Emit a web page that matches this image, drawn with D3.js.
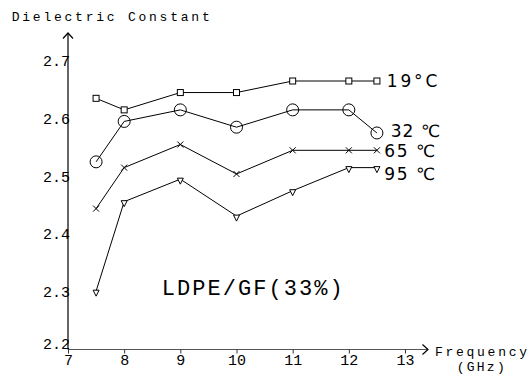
<!DOCTYPE html>
<html><head><meta charset="utf-8">
<script src="https://cdn.jsdelivr.net/npm/d3@7"></script>
<style>body{margin:0;background:#fff}svg{display:block}</style>
</head><body>
<script>
const freq = [7.5, 8, 9, 10, 11, 12, 12.5];
const t19 = [2.635, 2.615, 2.645, 2.645, 2.665, 2.665, 2.665];
const t32 = [2.525, 2.595, 2.615, 2.585, 2.615, 2.615, 2.575];
const t65 = [2.444, 2.515, 2.555, 2.504, 2.545, 2.545, 2.545];
const t95 = [2.301, 2.456, 2.495, 2.431, 2.475, 2.515, 2.515];
const seriesNames = ["19°C", "32 ℃", "65 ℃", "95 ℃"];
const xTicks = [7, 8, 9, 10, 11, 12, 13];
const yTicks = [2.2, 2.3, 2.4, 2.5, 2.6, 2.7];

const W = 529, H = 376;
const svg = d3.select("body").append("svg").attr("width", W).attr("height", H);
const x = d3.scaleLinear().domain([7, 13]).range([68, 405]);
const y = d3.scaleLinear().domain([2.2, 2.7]).range([349.5, 60.8]);
const mono = "'Liberation Mono', 'Courier New', monospace";

// axes lines with arrows
const ax = svg.append("g").attr("stroke", "#000").attr("fill", "none").attr("stroke-width", 1.2);
ax.append("line").attr("x1", x(7)).attr("y1", y(2.2)).attr("x2", x(7)).attr("y2", 33);
ax.append("path").attr("d", `M${x(7)-5},38.5L${x(7)},33L${x(7)+5},38.5`);
ax.append("line").attr("x1", x(7)).attr("y1", y(2.2)).attr("x2", 428).attr("y2", y(2.2)).attr("stroke","#555");
ax.append("path").attr("d", `M422.5,${y(2.2)-5}L428,${y(2.2)}L422.5,${y(2.2)+5}`);

// x axis
const gx = svg.append("g").attr("transform", `translate(0,${y(2.2)})`)
  .call(d3.axisBottom(x).tickValues(xTicks).tickFormat(d3.format("d")).tickSize(4).tickPadding(1));
gx.select(".domain").remove();
gx.selectAll("text").attr("font-family", mono).attr("font-size", 15).attr("fill", "#000");
gx.selectAll("line").attr("stroke", "#333");

// y axis
const gy = svg.append("g").attr("transform", `translate(${x(7)},0)`)
  .call(d3.axisLeft(y).tickValues(yTicks).tickFormat(d3.format(".1f")).tickSize(0).tickPadding(-2));
gy.select(".domain").remove();
gy.selectAll("text").attr("font-family", mono).attr("font-size", 15).attr("fill", "#000")
  .attr("dy", d => d === 2.2 ? "-0.05em" : "0.32em");

// titles
svg.append("text").attr("x", 11.7).attr("y", 21).attr("font-family", mono).attr("font-size", 13)
  .attr("textLength", 198).attr("lengthAdjust", "spacing").text("Dielectric Constant");
svg.append("text").attr("x", 435).attr("y", 356).attr("font-family", mono).attr("font-size", 13)
  .attr("textLength", 92).attr("lengthAdjust", "spacing").text("Frequency");
svg.append("text").attr("x", 456.7).attr("y", 371).attr("font-family", mono).attr("font-size", 13)
  .attr("textLength", 48).attr("lengthAdjust", "spacing").text("(GHz)");
svg.append("text").attr("x", 161.7).attr("y", 295).attr("font-family", mono).attr("font-size", 22)
  .attr("textLength", 181).attr("lengthAdjust", "spacing").text("LDPE/GF(33%)");

// series
const series = [t19, t32, t65, t95];
const line = d3.line().x(d => x(d[0])).y(d => y(d[1]));
const markers = ["square", "circle", "cross", "tri"];
series.forEach((vals, i) => {
  const pts = freq.map((f, j) => [f, vals[j]]);
  svg.append("path").attr("d", line(pts)).attr("fill", "none").attr("stroke", "#000").attr("stroke-width", 1);
  const g = svg.append("g").attr("stroke", "#000").attr("fill", "none").attr("stroke-width", 1);
  pts.forEach(p => {
    const cx = x(p[0]), cy = y(p[1]);
    if (markers[i] === "square") {
      g.append("rect").attr("x", cx - 3).attr("y", cy - 3).attr("width", 6).attr("height", 6).attr("fill", "#fff");
    } else if (markers[i] === "circle") {
      g.append("circle").attr("cx", cx).attr("cy", cy).attr("r", 6);
    } else if (markers[i] === "cross") {
      g.append("path").attr("d", `M${cx-3},${cy-3}L${cx+3},${cy+3}M${cx-3},${cy+3}L${cx+3},${cy-3}`);
    } else {
      g.append("path").attr("d", `M${cx-3},${cy-1}L${cx+3},${cy-1}L${cx},${cy+5}Z`).attr("fill", "#fff");
    }
  });
});

// series labels
const labelPos = [[386.7, 86.7, 50.6], [390.7, 136.5, 49.3], [384.3, 156.7, 50.7], [384.3, 180, 50.7]];
seriesNames.forEach((n, i) => {
  svg.append("text").attr("x", labelPos[i][0]).attr("y", labelPos[i][1])
    .attr("font-family", "'DejaVu Sans', sans-serif").attr("font-size", 17)
    .attr("textLength", labelPos[i][2]).attr("lengthAdjust", "spacing").text(n);
});
</script>
</body></html>
